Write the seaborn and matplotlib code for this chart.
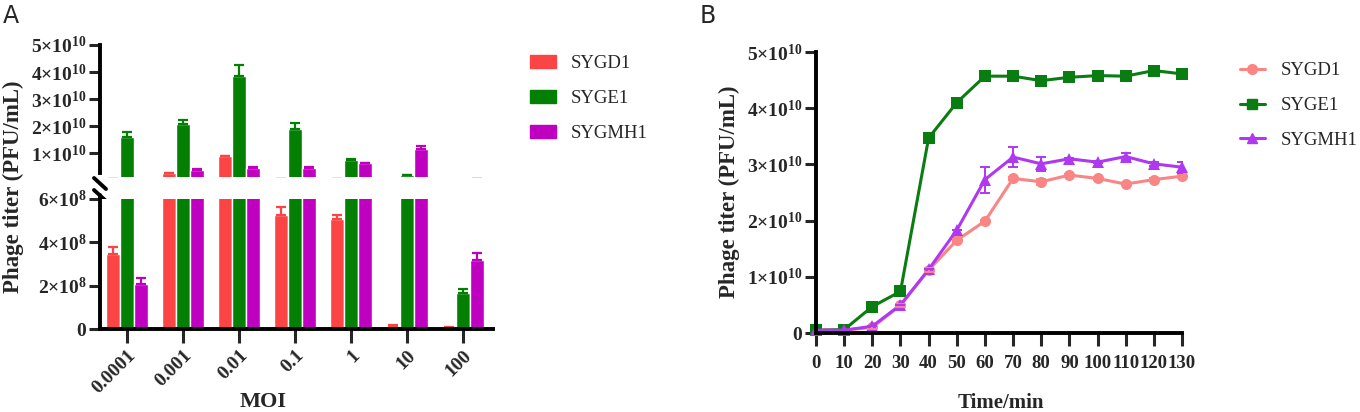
import numpy as np
import pandas as pd
import matplotlib
matplotlib.use('Agg')
import matplotlib.pyplot as plt
import seaborn as sns
from matplotlib.patches import Patch
from matplotlib.lines import Line2D

# ---- data ----
strains = ['SYGD1', 'SYGE1', 'SYGMH1']
moi_labels = ['0.0001', '0.001', '0.01', '0.1', '1', '10', '100']

sygd1_moi = [3.47e8, 2.5e9, 8.8e9, 5.26e8, 5.06e8, 1.2e7, 5e6]
sygd1_moi_sd = [3.0e7, 3e8, 3e8, 3.5e7, 2.0e7, 8e6, 2e6]
syge1_moi = [1.59e10, 2.07e10, 3.86e10, 1.89e10, 7.4e9, 1.8e9, 1.66e8]
syge1_moi_sd = [2.0e9, 1.6e9, 4.0e9, 2.2e9, 4e8, 3e8, 1.8e7]
sygmh1_moi = [2.09e8, 3.8e9, 4.7e9, 4.5e9, 6.2e9, 1.15e10, 3.19e8]
sygmh1_moi_sd = [2.5e7, 4e8, 2e8, 3e8, 3e8, 1.0e9, 3.4e7]

time_min = [0, 10, 20, 30, 40, 50, 60, 70, 80, 90, 100, 110, 120, 130]
sygd1_titer = [0.05e10, 0.05e10, 0.10e10, 0.49e10, 1.12e10, 1.65e10, 1.99e10,
               2.75e10, 2.69e10, 2.81e10, 2.75e10, 2.65e10, 2.73e10, 2.79e10]
sygd1_titer_sd = [0, 0, 0.02e10, 0.03e10, 0.03e10, 0.03e10, 0.02e10,
                  0.03e10, 0.05e10, 0.02e10, 0.02e10, 0.02e10, 0.02e10, 0.02e10]
syge1_titer = [0.05e10, 0.06e10, 0.47e10, 0.74e10, 3.47e10, 4.10e10, 4.57e10,
               4.57e10, 4.49e10, 4.55e10, 4.58e10, 4.57e10, 4.67e10, 4.61e10]
syge1_titer_sd = [0, 0, 0.02e10, 0.03e10, 0.03e10, 0.03e10, 0.02e10,
                  0.02e10, 0.02e10, 0.02e10, 0.02e10, 0.02e10, 0.02e10, 0.02e10]
sygmh1_titer = [0.05e10, 0.05e10, 0.12e10, 0.50e10, 1.13e10, 1.83e10, 2.73e10,
                3.13e10, 3.01e10, 3.10e10, 3.04e10, 3.14e10, 3.01e10, 2.95e10]
sygmh1_titer_sd = [0, 0, 0, 0, 0, 0, 0.23e10,
                   0.18e10, 0.13e10, 0.02e10, 0.02e10, 0.07e10, 0.03e10, 0.10e10]

bar_colors = ['#fb4444', '#037f03', '#c000c0']
line_colors = ['#f98585', '#0a7d12', '#b038f0']

df_moi = pd.DataFrame({
    'MOI': moi_labels * 3,
    'titer': sygd1_moi + syge1_moi + sygmh1_moi,
    'strain': np.repeat(strains, len(moi_labels)),
})
moi_sds = [sygd1_moi_sd, syge1_moi_sd, sygmh1_moi_sd]

df_time = pd.DataFrame({
    'time': time_min * 3,
    'titer': sygd1_titer + syge1_titer + sygmh1_titer,
    'strain': np.repeat(strains, len(time_min)),
})
time_sds = [sygd1_titer_sd, syge1_titer_sd, sygmh1_titer_sd]

# ---- style ----
sns.set_style('ticks')
plt.rcParams['font.family'] = ['Liberation Serif', 'DejaVu Serif']
plt.rcParams['mathtext.fontset'] = 'custom'
plt.rcParams['mathtext.rm'] = 'Liberation Serif:bold'
plt.rcParams['mathtext.bf'] = 'Liberation Serif:bold'
plt.rcParams['mathtext.it'] = 'Liberation Serif:bold:italic'

SPW = 2.8
tick_fs = 14
leg_fs = 13.5


def sci(v):
    if v == 0:
        return r'$0$'
    exp = int(np.floor(np.log10(v)))
    return r'$%d{\times}10^{%d}$' % (round(v / 10 ** exp), exp)


def style_axis(ax):
    for s in ['left', 'bottom', 'top', 'right']:
        ax.spines[s].set_linewidth(SPW)
        ax.spines[s].set_color('black')
    ax.tick_params(width=2.2, length=8, direction='out', labelsize=tick_fs, pad=1.5)


def add_errors(ax, sds, colors):
    bars = [c for c in ax.containers]
    for cont, sd, col in zip(bars, sds, colors):
        xs = [p.get_x() + p.get_width() / 2 for p in cont]
        ys = [p.get_height() for p in cont]
        ax.errorbar(xs, ys, yerr=[np.zeros(len(sd)), sd], fmt='none',
                    ecolor=col, elinewidth=1.6, capsize=3.5, capthick=1.6)


fig = plt.figure(figsize=(13.6, 4.12), dpi=100)
W, H = 1360, 412
ax_top = fig.add_axes([100 / W, 1 - 177 / H, 393 / W, 132 / H])
ax_bot = fig.add_axes([100 / W, 1 - 329 / H, 393 / W, 130 / H])
ax_b = fig.add_axes([816 / W, 1 - 333 / H, 366 / W, 281 / H])

# ---- panel A: broken-axis bar chart ----
for ax in (ax_top, ax_bot):
    sns.barplot(data=df_moi, x='MOI', y='titer', hue='strain', order=moi_labels,
                hue_order=strains, palette=bar_colors, width=0.75, errorbar=None,
                saturation=1, legend=False, ax=ax)
    add_errors(ax, moi_sds, bar_colors)
    style_axis(ax)
    ax.set_xlim(-0.485, 6.54)
    ax.set_ylabel('')
    ax.set_xlabel('')

ax_top.set_ylim(1.2e9, 5e10)
ax_top.spines['left'].set_bounds(2.6e9, 5e10)
top_ticks = [1e10, 2e10, 3e10, 4e10, 5e10]
ax_top.set_yticks(top_ticks, [sci(v) for v in top_ticks])
ax_top.spines[['top', 'right', 'bottom']].set_visible(False)
ax_top.tick_params(axis='x', bottom=False, labelbottom=False)

ax_bot.set_ylim(0, 6e8)
bot_ticks = [0, 2e8, 4e8, 6e8]
ax_bot.set_yticks(bot_ticks, [sci(v) for v in bot_ticks])
ax_bot.spines[['top', 'right']].set_visible(False)
ax_bot.tick_params(axis='x', length=10, pad=3)
ax_bot.set_xticks(range(len(moi_labels)), moi_labels, rotation=45, ha='right',
                  rotation_mode='anchor', fontsize=tick_fs, fontweight='bold')

# break marks (figure pixels -> fraction)
for (x0, y0, x1, y1) in [(94, 178, 106, 189), (94, 190, 106, 201)]:
    ax_top.plot([x0 / W, x1 / W], [1 - y0 / H, 1 - y1 / H], transform=fig.transFigure,
                color='black', lw=SPW, clip_on=False)
ax_top.plot([100 / W, 100 / W], [1 - 195 / H, 1 - 199 / H], transform=fig.transFigure,
            color='black', lw=SPW, clip_on=False)

fig.text(13 / W, 1 - 187 / H, 'Phage titer (PFU/mL)', rotation=90, ha='center',
         va='center', fontsize=16.5, fontweight='bold')
fig.text(263 / W, 1 - 402 / H, 'MOI', ha='center', va='center', fontsize=16,
         fontweight='bold')

fig.legend(handles=[Patch(color=c, label=s) for c, s in zip(bar_colors, strains)],
           loc='upper left', bbox_to_anchor=(530 / W, 1 - 55 / H), frameon=False,
           fontsize=leg_fs, handlelength=1.39, handleheight=0.7, labelspacing=0.95,
           handletextpad=0.8, borderpad=0, borderaxespad=0)

# ---- panel B: growth curves ----
sns.lineplot(data=df_time, x='time', y='titer', hue='strain', style='strain',
             hue_order=strains, style_order=strains, palette=line_colors,
             markers={'SYGD1': 'o', 'SYGE1': 's', 'SYGMH1': '^'}, dashes=False,
             markersize=8, markeredgewidth=0, linewidth=2.2, legend=False,
             ax=ax_b, clip_on=False)
for vals, sd, col in zip([sygd1_titer, syge1_titer, sygmh1_titer], time_sds, line_colors):
    ax_b.errorbar(time_min, vals, yerr=sd, fmt='none', ecolor=col,
                  elinewidth=1.4, capsize=3.5, capthick=1.4)
style_axis(ax_b)
ax_b.spines[['top', 'right']].set_visible(False)
ax_b.set_xlim(0, 130)
ax_b.set_ylim(0, 5e10)
b_ticks = [0, 1e10, 2e10, 3e10, 4e10, 5e10]
ax_b.set_yticks(b_ticks, [sci(v) for v in b_ticks])
ax_b.set_xticks(time_min, [str(t) for t in time_min], fontsize=13.5,
                fontweight='bold')
ax_b.tick_params(axis='x', length=9, pad=7)
ax_b.set_xlabel('')
ax_b.set_ylabel('')
fig.text(729 / W, 1 - 192 / H, 'Phage titer (PFU/mL)', rotation=90, ha='center',
         va='center', fontsize=16.5, fontweight='bold')
fig.text(1001 / W, 1 - 403 / H, 'Time/min', ha='center', va='center', fontsize=15,
         fontweight='bold')

fig.legend(handles=[Line2D([], [], color=c, marker=m, lw=2.2, markersize=7, label=s)
                    for c, m, s in zip(line_colors, ['o', 's', '^'], strains)],
           loc='upper left', bbox_to_anchor=(1240 / W, 1 - 62 / H), frameon=False,
           fontsize=leg_fs, handlelength=1.33, labelspacing=0.95,
           handletextpad=0.85, borderpad=0, borderaxespad=0)

# panel letters
fig.text(3 / W, 1 - 16 / H, 'A', family='DejaVu Sans', fontsize=17, va='center')
fig.text(700 / W, 1 - 16 / H, 'B', family='DejaVu Sans', fontsize=17, va='center')

fig.savefig('out.png', dpi=100)
